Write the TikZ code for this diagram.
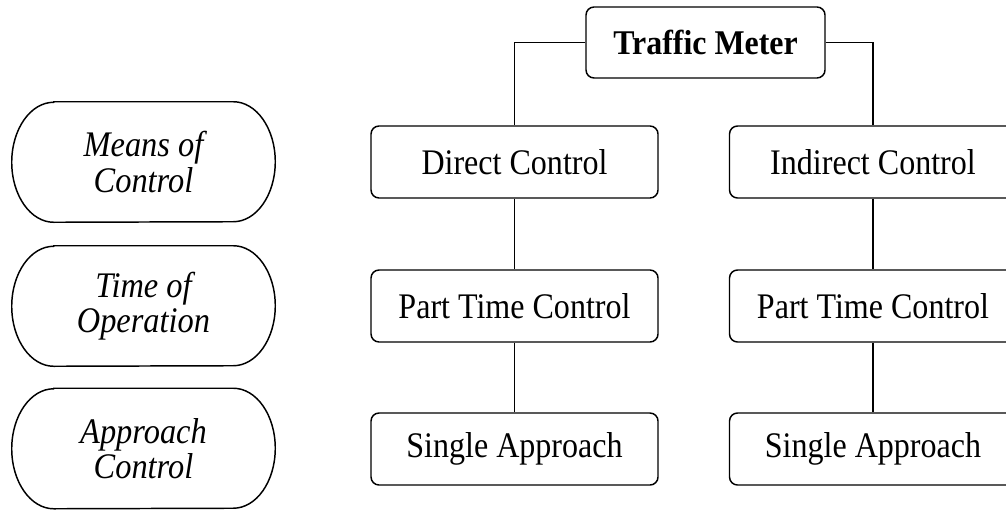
\documentclass[tikz,border=0pt]{standalone}
\usepackage{fontspec}
\setmainfont{Liberation Serif}
\newfontfamily\itemfont{Liberation Serif}[FakeStretch=0.89]
\newfontfamily\levelfont{Liberation Serif}[FakeStretch=0.9]
\newfontfamily\rootfont{Liberation Serif}[FakeStretch=0.92]
\begin{document}
\begin{tikzpicture}[x=0.75pt,y=-0.75pt,
  every node/.style={inner sep=0pt},
  level/.style={draw=none, minimum width=197.25pt, minimum height=90pt,
    align=center, font=\levelfont\fontsize{27}{26.5}\selectfont\itshape},
  item/.style={draw, line width=1.1pt, rounded corners=6pt,
    minimum width=215.25pt, minimum height=54pt,
    font=\itemfont\fontsize{27}{28}\selectfont},
  root/.style={item, minimum width=179.25pt, minimum height=53.25pt,
    font=\rootfont\fontsize{26}{28}\selectfont\bfseries},
  link/.style={line width=0.9pt},
  lane/.style={line width=1.1pt}]
\useasboundingbox (0,0) rectangle (1006,510);
\clip (0,0) rectangle (1006,510);

% classification levels on the left
\node[level] (means) at (143.5,162)   {Means of\\Control};
\node[level] (time)  at (143.5,306)   {Time of\\Operation};
\node[level] (appr)  at (143.5,448.5) {Approach\\Control};
\foreach \n in {means,time,appr}
  \draw[lane] ([xshift=31.5pt]\n.north west) -- ([xshift=-31.5pt]\n.north east)
    arc[start angle=90, end angle=-90, x radius=31.5pt, y radius=45pt]
    -- ([xshift=31.5pt]\n.south west)
    arc[start angle=270, end angle=90, x radius=31.5pt, y radius=45pt] -- cycle;

% hierarchy
\node[root] (tm)  at (705.5,42.5) {Traffic Meter};
\node[item] (dc)  at (514.5,162) {Direct Control};
\node[item] (ic)  at (873,162)   {Indirect Control};
\node[item] (pt1) at (514.5,306) {Part Time Control};
\node[item] (pt2) at (873,306)   {Part Time Control};
\node[item] (sa1) at (514.5,449) {Single Approach};
\node[item] (sa2) at (873,449)   {Single Approach};

\draw[link] (tm.west) -| (dc.north);
\draw[link] (tm.east) -| (ic.north);
\draw[link] (dc.south) -- (pt1.north);
\draw[link] (pt1.south) -- (sa1.north);
\draw[link] (ic.south) -- (pt2.north);
\draw[link] (pt2.south) -- (sa2.north);
\end{tikzpicture}
\end{document}
